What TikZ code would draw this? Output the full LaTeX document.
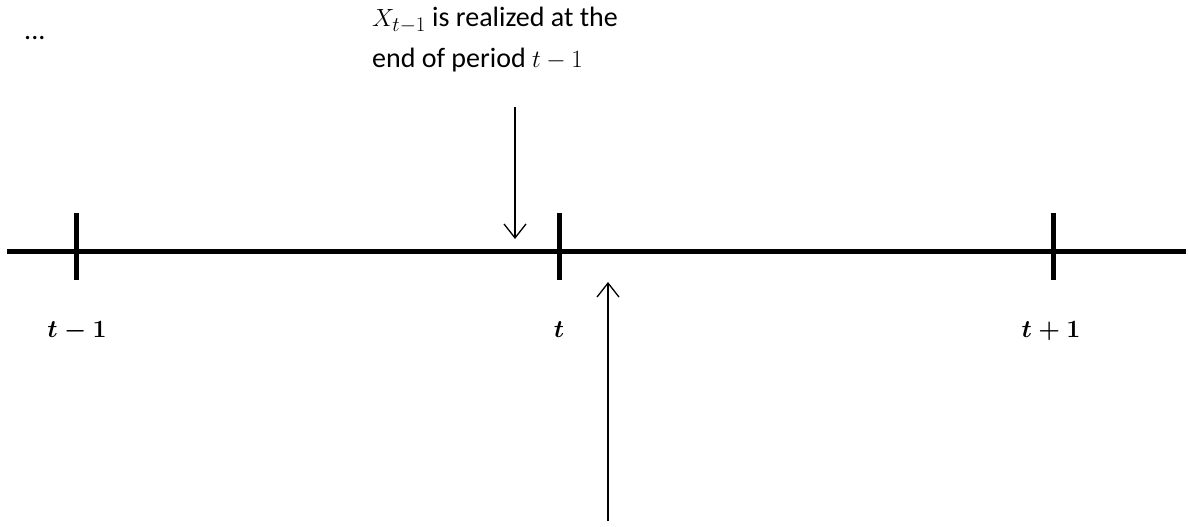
\documentclass[tikz,border=0pt]{standalone}
\usepackage{fontspec}
\setmainfont{Carlito}
\usetikzlibrary{arrows.meta}
\tikzset{
  axis/.style={line width=5pt},
  tick/.style={line width=5pt},
  pointer/.style={line width=1.3pt,-{Straight Barb[length=14pt,width=22pt,line width=1.3pt]}},
  lab/.style={font=\fontsize{28}{32}\selectfont\boldmath, anchor=base},
  note/.style={font=\fontsize{28}{32}\selectfont, anchor=base west, inner sep=0pt}
}
\begin{document}
\begin{tikzpicture}[x=1pt,y=-1pt]
\useasboundingbox (0,0) rectangle (1189,527);
\coordinate (L) at (7,251);
\coordinate (R) at (1186,251);
\draw[axis] (L) -- (R);
\foreach \n/\x in {a/76,b/559,c/1053}{
  \coordinate (\n top) at (\x,213);
  \coordinate (\n bot) at (\x,280);
  \draw[tick] (\n top) -- (\n bot);
}
\node[lab] (la) at (77,337) {$t-1$};
\node[lab] (lb) at (559,337) {$t$};
\node[lab] (lc) at (1051,337) {$t+1$};
\node[note] (txt1) at (372,27) {$X_{t-1}$ is realized at the};
\node[note] (txt2) at (372,68) {end of period $t-1$};
\node[note] (dots) at (24,40) {...};
\coordinate (d1) at (515,107);
\coordinate (d2) at (515,239);
\draw[pointer] (d1) -- (d2);
\coordinate (u1) at (608,521);
\coordinate (u2) at (608,282);
\draw[pointer] (u1) -- (u2);
\end{tikzpicture}
\end{document}
